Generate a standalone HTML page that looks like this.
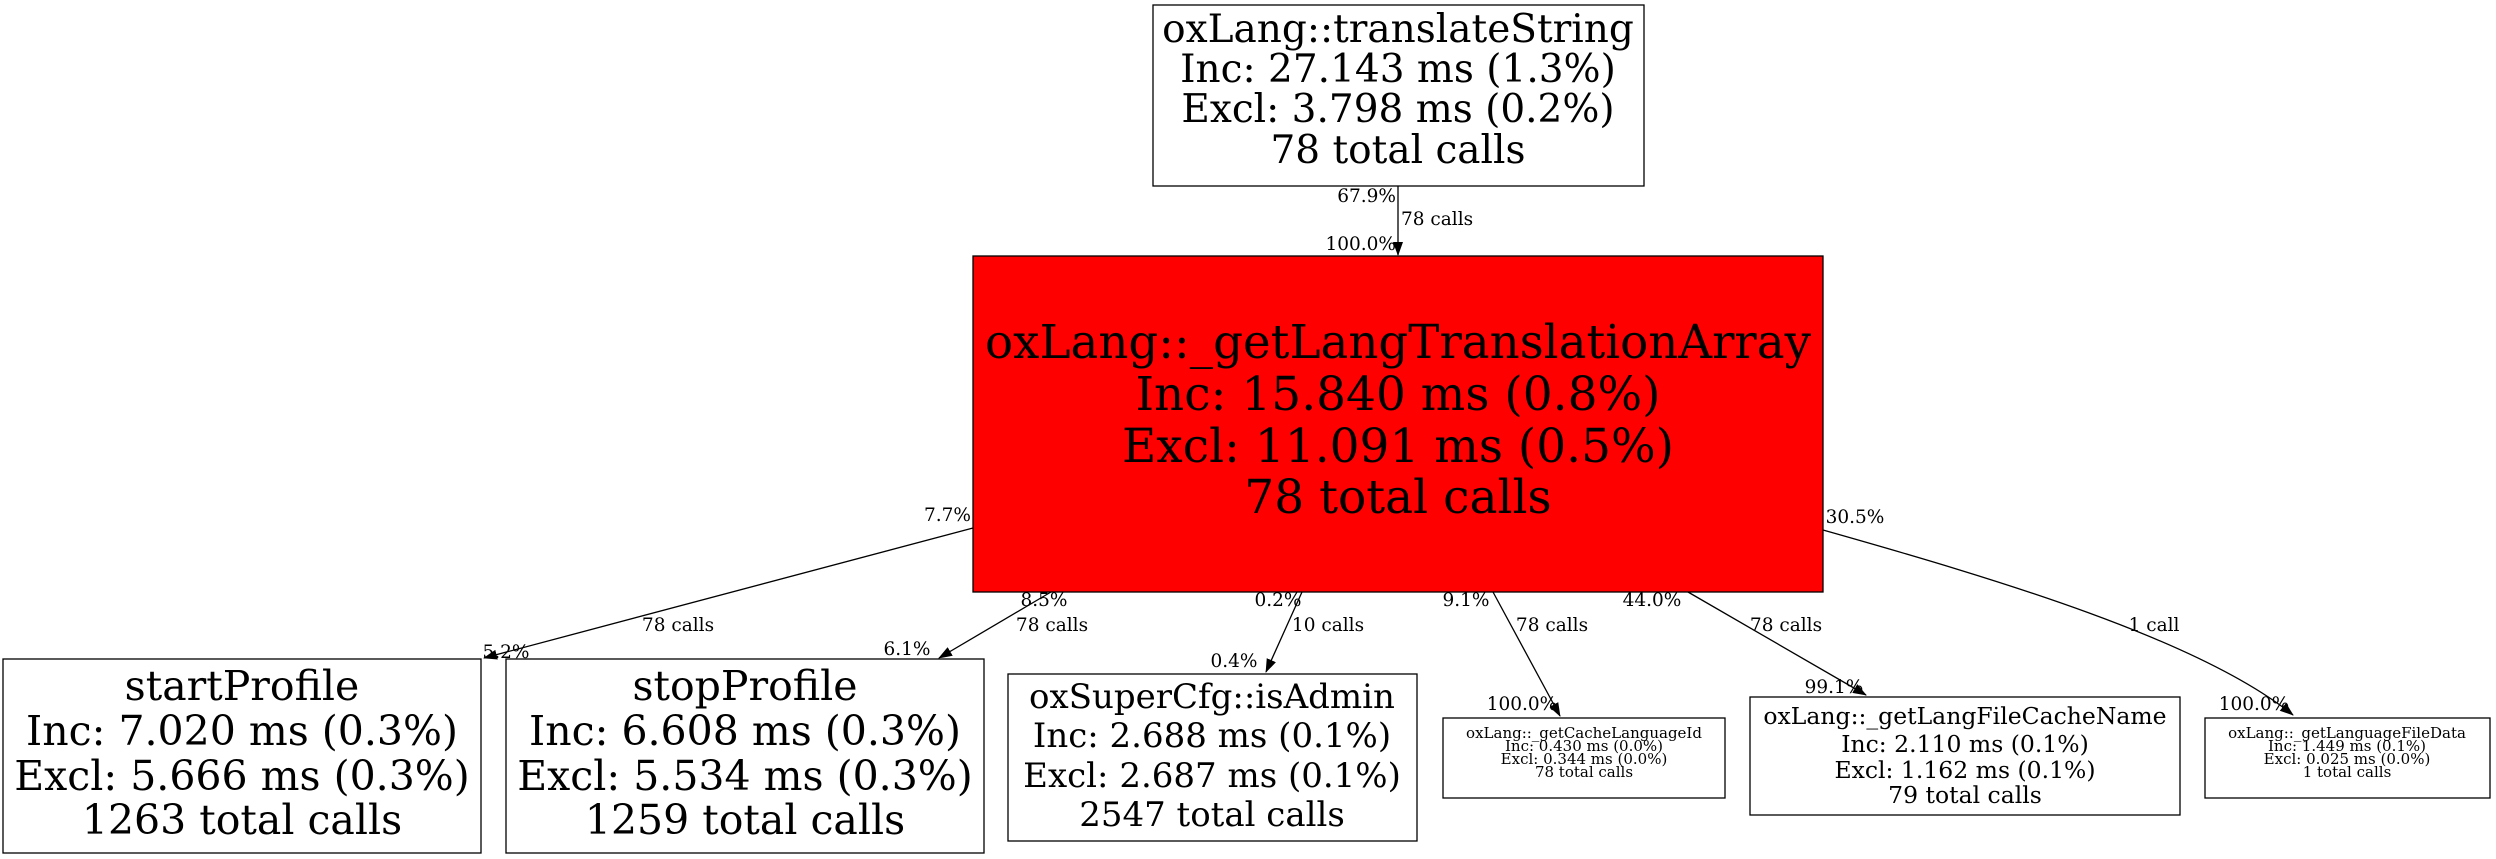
<!DOCTYPE html>
<html><head><meta charset="utf-8"><style>
html,body{margin:0;padding:0;background:#fff;}
svg{display:block;}
text{font-family:"DejaVu Serif","Liberation Serif",serif;fill:#000;}
.l{font-size:18.5px;}
</style></head><body>
<svg width="2496" height="859" viewBox="0 0 2496 859" xmlns="http://www.w3.org/2000/svg">
<defs><marker id="a" markerWidth="14" markerHeight="12" refX="13" refY="6" orient="auto" markerUnits="userSpaceOnUse"><path d="M0,1 L14,6 L0,11 z" fill="#000"/></marker></defs>
<g fill="none" stroke="#000" stroke-width="1.3">
<line x1="1398" y1="186" x2="1398" y2="255" marker-end="url(#a)"/>
<line x1="973" y1="528" x2="484" y2="658" marker-end="url(#a)"/>
<line x1="1051" y1="592" x2="939" y2="658" marker-end="url(#a)"/>
<line x1="1302" y1="592" x2="1266" y2="672" marker-end="url(#a)"/>
<line x1="1493" y1="592" x2="1560" y2="716" marker-end="url(#a)"/>
<line x1="1688" y1="592" x2="1866" y2="695" marker-end="url(#a)"/>
<path d="M1823,530 C2000,580 2200,640 2293,715" marker-end="url(#a)"/>
</g>
<g stroke="#000" stroke-width="1.3">
<rect x="1153" y="5" width="491" height="181" fill="#fff"/>
<rect x="973" y="256" width="850" height="336" fill="#f00"/>
<rect x="3" y="659" width="478" height="194" fill="#fff"/>
<rect x="506" y="659" width="478" height="194" fill="#fff"/>
<rect x="1008" y="674" width="409" height="167" fill="#fff"/>
<rect x="1443" y="718" width="282" height="80" fill="#fff"/>
<rect x="1750" y="697" width="430" height="118" fill="#fff"/>
<rect x="2205" y="718" width="285" height="80" fill="#fff"/>
</g>
<g text-anchor="middle">
<g font-size="39"><text x="1398" y="42">oxLang::translateString</text><text x="1398" y="82">Inc: 27.143 ms (1.3%)</text><text x="1398" y="122">Excl: 3.798 ms (0.2%)</text><text x="1398" y="163">78 total calls</text></g>
<g font-size="47"><text x="1398" y="358" textLength="826" lengthAdjust="spacingAndGlyphs">oxLang::_getLangTranslationArray</text><text x="1398" y="410">Inc: 15.840 ms (0.8%)</text><text x="1398" y="462">Excl: 11.091 ms (0.5%)</text><text x="1398" y="513">78 total calls</text></g>
<g font-size="41"><text x="242" y="700">startProfile</text><text x="242" y="745">Inc: 7.020 ms (0.3%)</text><text x="242" y="790">Excl: 5.666 ms (0.3%)</text><text x="242" y="834">1263 total calls</text>
<text x="745" y="700">stopProfile</text><text x="745" y="745">Inc: 6.608 ms (0.3%)</text><text x="745" y="790">Excl: 5.534 ms (0.3%)</text><text x="745" y="834">1259 total calls</text></g>
<g font-size="34"><text x="1212" y="708">oxSuperCfg::isAdmin</text><text x="1212" y="747">Inc: 2.688 ms (0.1%)</text><text x="1212" y="787">Excl: 2.687 ms (0.1%)</text><text x="1212" y="826">2547 total calls</text></g>
<g font-size="23.5"><text x="1965" y="724">oxLang::_getLangFileCacheName</text><text x="1965" y="752">Inc: 2.110 ms (0.1%)</text><text x="1965" y="778">Excl: 1.162 ms (0.1%)</text><text x="1965" y="803">79 total calls</text></g>
<g font-size="15"><text x="1584" y="738">oxLang::_getCacheLanguageId</text><text x="1584" y="751">Inc: 0.430 ms (0.0%)</text><text x="1584" y="764">Excl: 0.344 ms (0.0%)</text><text x="1584" y="777">78 total calls</text>
<text x="2347" y="738">oxLang::_getLanguageFileData</text><text x="2347" y="751">Inc: 1.449 ms (0.1%)</text><text x="2347" y="764">Excl: 0.025 ms (0.0%)</text><text x="2347" y="777">1 total calls</text></g>
</g>
<g class="l">
<text x="1396" y="202" text-anchor="end">67.9%</text>
<text x="1401" y="225">78 calls</text>
<text x="1396" y="250" text-anchor="end">100.0%</text>
<text x="971" y="521" text-anchor="end">7.7%</text>
<text x="678" y="631" text-anchor="middle">78 calls</text>
<text x="506" y="658" text-anchor="middle">5.2%</text>
<text x="1044" y="606" text-anchor="middle">8.5%</text>
<text x="1052" y="631" text-anchor="middle">78 calls</text>
<text x="907" y="655" text-anchor="middle">6.1%</text>
<text x="1278" y="606" text-anchor="middle">0.2%</text>
<text x="1328" y="631" text-anchor="middle">10 calls</text>
<text x="1234" y="667" text-anchor="middle">0.4%</text>
<text x="1466" y="606" text-anchor="middle">9.1%</text>
<text x="1552" y="631" text-anchor="middle">78 calls</text>
<text x="1522" y="710" text-anchor="middle">100.0%</text>
<text x="1652" y="606" text-anchor="middle">44.0%</text>
<text x="1786" y="631" text-anchor="middle">78 calls</text>
<text x="1834" y="693" text-anchor="middle">99.1%</text>
<text x="1855" y="523" text-anchor="middle">30.5%</text>
<text x="2154" y="631" text-anchor="middle">1 call</text>
<text x="2254" y="710" text-anchor="middle">100.0%</text>
</g>
</svg>
</body></html>
